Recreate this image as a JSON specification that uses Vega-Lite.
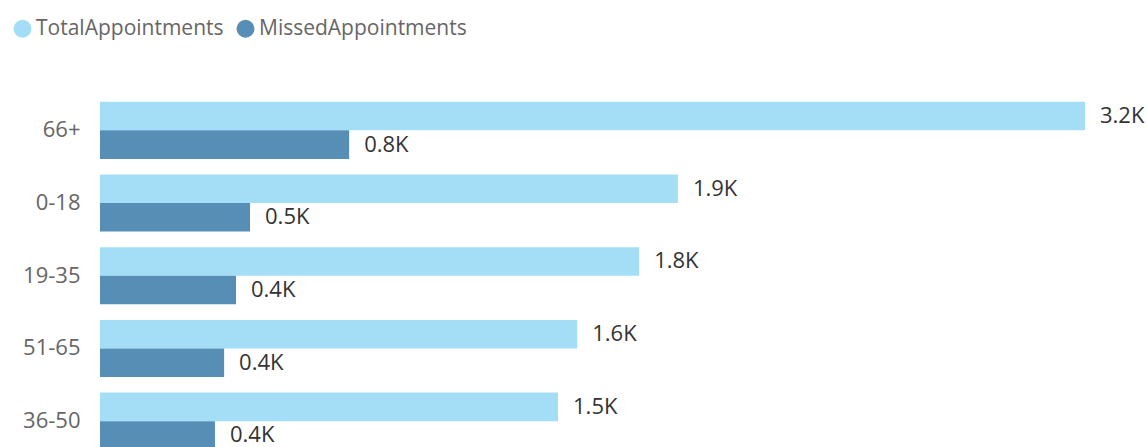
{
  "$schema": "https://vega.github.io/schema/vega-lite/v6.json",
  "width": 985,
  "height": 363.5,
  "autosize": {"type": "none"},
  "padding": {"left": 100, "top": 94, "right": 62, "bottom": 0},
  "background": "white",
  "config": {"view": {"stroke": null}, "font": "Open Sans"},
  "data": {
    "values": [
      {"age": "66+", "series": "TotalAppointments", "value": 3230},
      {"age": "66+", "series": "MissedAppointments", "value": 817},
      {"age": "0-18", "series": "TotalAppointments", "value": 1895},
      {"age": "0-18", "series": "MissedAppointments", "value": 492},
      {"age": "19-35", "series": "TotalAppointments", "value": 1768},
      {"age": "19-35", "series": "MissedAppointments", "value": 446},
      {"age": "51-65", "series": "TotalAppointments", "value": 1565},
      {"age": "51-65", "series": "MissedAppointments", "value": 407},
      {"age": "36-50", "series": "TotalAppointments", "value": 1502},
      {"age": "36-50", "series": "MissedAppointments", "value": 377}
    ]
  },
  "transform": [
    {"calculate": "format(datum.value / 1000, '.1f') + 'K'", "as": "label"}
  ],
  "encoding": {
    "y": {
      "field": "age",
      "type": "nominal",
      "sort": ["66+", "0-18", "19-35", "51-65", "36-50"],
      "scale": {"paddingInner": 0.215, "paddingOuter": 0.1075},
      "axis": {
        "title": null,
        "domain": false,
        "ticks": false,
        "labelFontSize": 22,
        "labelColor": "#666666",
        "labelPadding": 20,
        "labelFont": "Open Sans"
      }
    },
    "yOffset": {
      "field": "series",
      "type": "nominal",
      "sort": ["TotalAppointments", "MissedAppointments"]
    },
    "x": {
      "field": "value",
      "type": "quantitative",
      "scale": {"domain": [0, 3230]},
      "axis": null
    }
  },
  "layer": [
    {
      "mark": {"type": "bar"},
      "encoding": {
        "color": {
          "field": "series",
          "type": "nominal",
          "sort": ["TotalAppointments", "MissedAppointments"],
          "scale": {
            "domain": ["TotalAppointments", "MissedAppointments"],
            "range": ["#A3DEF6", "#568EB6"]
          },
          "legend": {
            "title": null,
            "orient": "none",
            "direction": "horizontal",
            "legendX": -88,
            "legendY": -76,
            "symbolType": "circle",
            "symbolSize": 324,
            "symbolStrokeWidth": 0,
            "labelFontSize": 21,
            "labelColor": "#666666",
            "labelFont": "Open Sans",
            "labelLimit": 0,
            "labelOffset": 3,
            "columnPadding": 11
          }
        }
      }
    },
    {
      "mark": {
        "type": "text",
        "align": "left",
        "baseline": "middle",
        "dx": 15,
        "fontSize": 22,
        "color": "#333333",
        "font": "Open Sans"
      },
      "encoding": {"text": {"field": "label"}}
    }
  ]
}
